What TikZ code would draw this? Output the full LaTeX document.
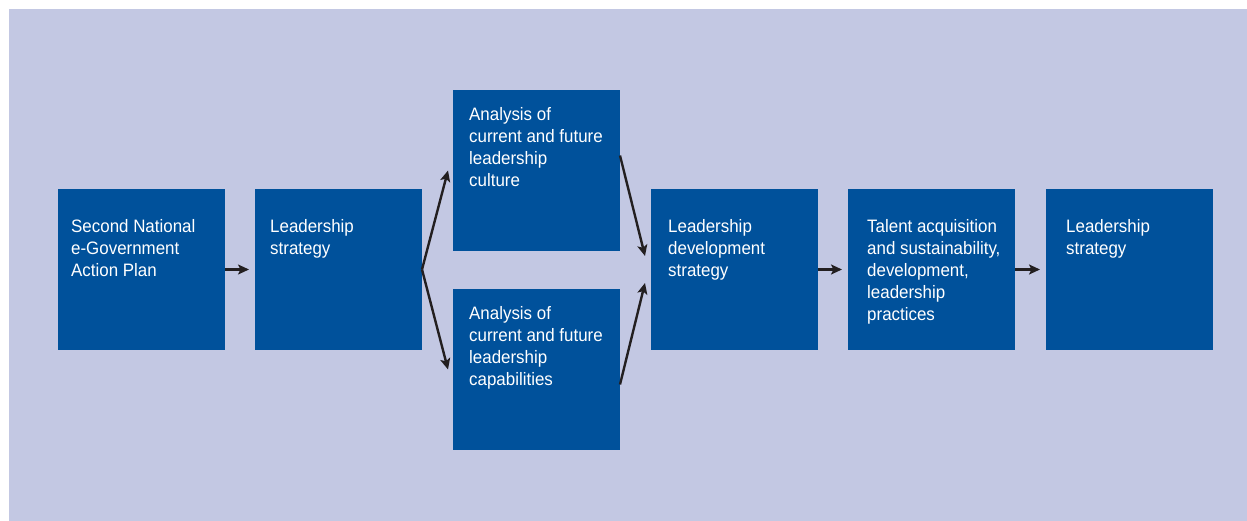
\documentclass[tikz,border=0pt]{standalone}
\usepackage{fontspec}
\setmainfont{Liberation Sans}[FakeStretch=0.94]
\usetikzlibrary{arrows.meta}
\definecolor{bgc}{RGB}{195,200,227}
\definecolor{boxc}{RGB}{0,81,155}
\definecolor{arrc}{RGB}{35,31,32}
\begin{document}
\begin{tikzpicture}[x=1pt,y=-1pt,
  stepbox/.style={fill=boxc, draw=none, minimum width=167pt, minimum height=161pt, inner sep=0pt, outer sep=0pt, anchor=north west},
  boxtext/.style={text=white, anchor=north west, inner sep=0pt, align=left, font=\fontsize{18}{22}\selectfont},
  conn/.style={draw=arrc, line width=2.4pt, -{Stealth[length=11pt,width=10pt,inset=2.5pt]}}]
\useasboundingbox (0,0) rectangle (1247,521);
\fill[bgc] (9,9) rectangle (1247,521);
% boxes
\node[stepbox] (b1) at (58,189) {};
\node[stepbox] (b2) at (255,189) {};
\node[stepbox] (b3) at (453,90) {};
\node[stepbox] (b4) at (453,289) {};
\node[stepbox] (b5) at (651,189) {};
\node[stepbox] (b6) at (848,189) {};
\node[stepbox] (b7) at (1046,189) {};
% texts
\node[boxtext] (t1) at (71,219) {Second National\\e-Government\\Action Plan};
\node[boxtext] (t2) at (270,219) {Leadership\\strategy};
\node[boxtext] (t3) at (469,107) {Analysis of\\current and future\\leadership\\culture};
\node[boxtext] (t4) at (469,306) {Analysis of\\current and future\\leadership\\capabilities};
\node[boxtext] (t5) at (668,219) {Leadership\\development\\strategy};
\node[boxtext] (t6) at (867,219) {Talent acquisition\\and sustainability,\\development,\\leadership\\practices};
\node[boxtext] (t7) at (1066,219) {Leadership\\strategy};
% connectors
\draw[conn, shorten >=6pt] (b1.east) -- (b2.west);
\draw[conn] (b2.east) -- ([xshift=-5pt]b3.west);
\draw[conn] (b2.east) -- ([xshift=-5pt]b4.west);
\draw[conn] ([yshift=15pt]b3.east) -- ([xshift=-6pt,yshift=13.5pt]b5.west);
\draw[conn] ([yshift=-15pt]b4.east) -- ([xshift=-6pt,yshift=-13.5pt]b5.west);
\draw[conn, shorten >=6pt] (b5.east) -- (b6.west);
\draw[conn, shorten >=6pt] (b6.east) -- (b7.west);
\end{tikzpicture}
\end{document}
